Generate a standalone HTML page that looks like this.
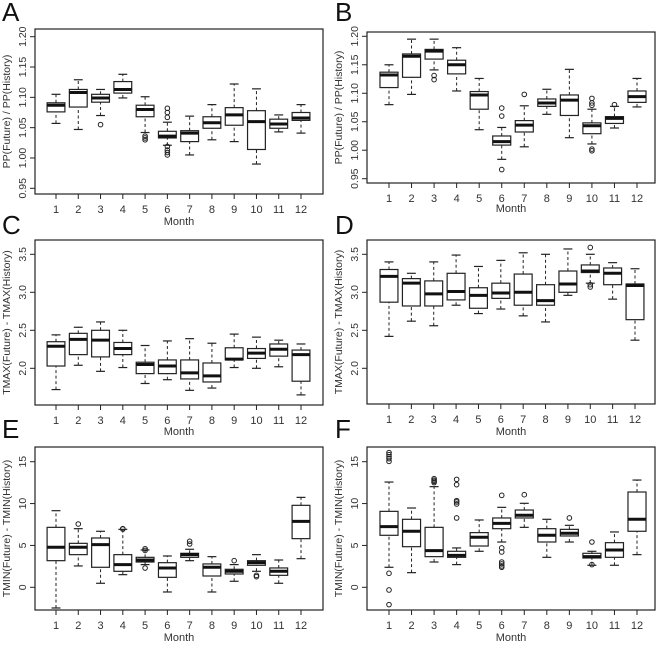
<!DOCTYPE html>
<html><head><meta charset="utf-8"><style>
html,body{margin:0;padding:0;background:#fff;}
svg{display:block;font-family:"Liberation Sans",sans-serif;}
</style></head><body>
<svg id="chart" width="659" height="645" viewBox="0 0 659 645" xmlns="http://www.w3.org/2000/svg"></svg>
<script>
const months = [1,2,3,4,5,6,7,8,9,10,11,12];
// each box: [lowWhisker, q1, median, q3, highWhisker]
const boxesA = [[1.057,1.076,1.087,1.091,1.105],[1.047,1.084,1.108,1.113,1.129],[1.070,1.092,1.099,1.105,1.113],[1.099,1.107,1.113,1.126,1.138],[1.042,1.068,1.080,1.087,1.101],[1.021,1.033,1.036,1.044,1.059],[1.005,1.027,1.041,1.045,1.069],[1.030,1.049,1.058,1.068,1.088],[1.027,1.054,1.071,1.083,1.122],[0.990,1.014,1.060,1.078,1.114],[1.043,1.049,1.056,1.064,1.071],[1.041,1.062,1.066,1.075,1.088]];
const outA = [[],[],[1.055],[],[1.036,1.033,1.030],[1.082,1.075,1.067,1.019,1.013,1.009,1.005],[],[],[],[],[],[]];
const boxesB = [[1.080,1.110,1.132,1.137,1.150],[1.098,1.128,1.165,1.169,1.195],[1.141,1.160,1.174,1.177,1.195],[1.104,1.134,1.150,1.158,1.180],[1.036,1.072,1.097,1.103,1.126],[0.984,1.009,1.015,1.025,1.040],[1.006,1.032,1.044,1.052,1.078],[1.063,1.077,1.083,1.090,1.107],[1.022,1.061,1.088,1.097,1.142],[1.011,1.029,1.043,1.048,1.072],[1.039,1.047,1.056,1.059,1.077],[1.076,1.084,1.094,1.104,1.126]];
const outB = [[],[],[1.131,1.124],[],[],[1.074,1.060,0.966],[1.098],[],[],[1.091,1.083,1.079,1.002,0.999],[1.080],[]];
const boxesC = [[1.72,2.03,2.29,2.35,2.44],[2.04,2.18,2.38,2.46,2.54],[1.96,2.15,2.37,2.50,2.61],[2.01,2.18,2.26,2.34,2.50],[1.80,1.93,2.05,2.08,2.30],[1.85,1.93,2.03,2.11,2.36],[1.71,1.86,1.94,2.11,2.39],[1.74,1.82,1.90,2.07,2.33],[2.01,2.11,2.12,2.27,2.45],[2.00,2.13,2.20,2.26,2.41],[2.02,2.16,2.25,2.32,2.37],[1.65,1.83,2.18,2.24,2.32]];
const outC = [[],[],[],[],[],[],[],[],[],[],[],[]];
const boxesD = [[2.42,2.87,3.21,3.30,3.40],[2.62,2.82,3.12,3.18,3.25],[2.56,2.82,2.98,3.15,3.40],[2.83,2.90,3.01,3.25,3.49],[2.72,2.79,2.96,3.06,3.34],[2.78,2.92,2.99,3.12,3.42],[2.69,2.83,3.00,3.24,3.52],[2.61,2.83,2.89,3.10,3.50],[2.96,3.00,3.11,3.28,3.57],[3.12,3.26,3.28,3.36,3.50],[2.91,3.10,3.25,3.32,3.39],[2.37,2.64,3.09,3.11,3.31]];
const outD = [[],[],[],[],[],[],[],[],[],[3.59,3.10,3.07],[],[]];
const boxesE = [[-2.47,3.18,4.78,7.16,9.15],[2.55,3.90,4.78,5.25,7.0],[0.48,2.39,5.09,5.89,6.69],[1.51,1.91,2.71,3.90,6.92],[2.71,3.02,3.26,3.58,4.46],[-0.56,1.19,2.31,2.94,3.74],[3.18,3.58,3.90,4.06,4.54],[-0.56,1.35,2.39,2.79,3.66],[0.72,1.59,1.91,2.15,2.71],[1.91,2.63,2.94,3.18,3.90],[0.48,1.43,1.91,2.31,3.26],[3.42,5.81,7.88,9.79,10.74]];
const outE = [[],[7.56],[],[7.0,6.95],[4.6,4.4,2.3],[],[5.49,5.17],[],[3.18],[1.43,1.27],[],[]];
const boxesF = [[2.39,6.21,7.24,9.07,12.57],[1.75,4.85,6.69,8.12,9.47],[3.02,3.66,4.38,7.16,12.02],[2.71,3.58,3.82,4.30,4.70],[4.30,4.93,5.97,6.53,8.04],[5.41,7.0,7.64,8.28,9.55],[7.16,8.28,8.6,9.23,10.03],[3.58,5.41,6.21,7.0,8.12],[5.41,6.13,6.45,6.92,7.40],[2.63,3.50,3.66,4.06,4.30],[2.63,3.58,4.46,5.33,6.61],[3.90,6.69,8.12,11.38,12.81]];
const outF = [[16.08,15.84,15.6,15.36,15.04,1.67,-0.32,-2.07],[],[12.97,12.8,12.65,12.5],[12.89,12.26,10.35,10.19,9.95,8.28],[],[10.98,4.7,4.22,3.02,2.79,2.55,2.39],[11.06],[],[8.28],[5.41,2.71],[],[]];
const ticksPP = [0.95,1.00,1.05,1.10,1.15,1.20];
const ticksTMAX = [2.0,2.5,3.0,3.5];
const ticksTMIN = [0,5,10,15];

const NS = "http://www.w3.org/2000/svg";
const svg = document.getElementById('chart');
function mk(tag, attrs, parent, text){
  const e = document.createElementNS(NS, tag);
  for (const k in attrs) e.setAttribute(k, attrs[k]);
  if (text !== undefined) e.textContent = text;
  (parent||svg).appendChild(e);
  return e;
}
const fmtPP = v => v.toFixed(2), fmtT = v => v.toFixed(1), fmtI = v => String(v);

const panels = [
 {id:'a',letter:'A',lx:2,ly:21,L:35,R:323,T:29,B:194,v0:1.20,y0:36.7,v1:0.95,y1:188.3,c1:56,c12:301,ticks:ticksPP,fmt:fmtPP,boxes:boxesA,outs:outA,title:'PP(Future) / PP(History)',tx:10,mly:229},
 {id:'b',letter:'B',lx:335,ly:21,L:367,R:655,T:32,B:183,v0:1.20,y0:36.3,v1:0.95,y1:178.7,c1:389,c12:637,ticks:ticksPP,fmt:fmtPP,boxes:boxesB,outs:outB,title:'PP(Future) / PP(History)',tx:342,mly:216},
 {id:'c',letter:'C',lx:2,ly:234,L:35,R:323,T:240,B:405,v0:3.5,y0:254.3,v1:2.0,y1:368.3,c1:56,c12:301,ticks:ticksTMAX,fmt:fmtT,boxes:boxesC,outs:outC,title:'TMAX(Future) - TMAX(History)',tx:10,mly:439},
 {id:'d',letter:'D',lx:335,ly:234,L:367,R:655,T:240,B:404,v0:3.5,y0:254.3,v1:2.0,y1:368.3,c1:389,c12:635,ticks:ticksTMAX,fmt:fmtT,boxes:boxesD,outs:outD,title:'TMAX(Future) - TMAX(History)',tx:342,mly:439},
 {id:'e',letter:'E',lx:2,ly:438,L:35,R:323,T:447,B:610,v0:15,y0:461.7,v1:0,y1:587.3,c1:56,c12:301,ticks:ticksTMIN,fmt:fmtI,boxes:boxesE,outs:outE,title:'TMIN(Future) - TMIN(History)',tx:10,mly:645},
 {id:'f',letter:'F',lx:335,ly:438,L:367,R:655,T:447,B:610,v0:15,y0:461.7,v1:0,y1:587.3,c1:389,c12:637,ticks:ticksTMIN,fmt:fmtI,boxes:boxesF,outs:outF,title:'TMIN(Future) - TMIN(History)',tx:342,mly:645}
];

panels.forEach(p => {
  const g = mk('g', {});
  
  
  const yS = v => p.y0 + (v - p.v0) / (p.v1 - p.v0) * (p.y1 - p.y0);
  const xS = m => p.c1 + (m - 1) * (p.c12 - p.c1) / 11;
  const bw = (p.c12 - p.c1) / 11 * 0.8;

  const lt = mk('text', {x:p.lx, y:p.ly, 'font-size':26, fill:'#111'}, g, p.letter);
  
  

  const fr = mk('rect', {x:p.L, y:p.T, width:p.R-p.L, height:p.B-p.T, fill:'none', stroke:'#222', 'stroke-width':1.2}, g);
  
  

  p.ticks.forEach(t => {
    const y = yS(t);
    mk('line', {x1:p.L-5, x2:p.L, y1:y, y2:y, stroke:'#222', 'stroke-width':1}, g);
    const tl = mk('text', {x:0, y:0, 'font-size':10.5, fill:'#333', 'text-anchor':'middle', transform:`translate(${p.L-9},${y}) rotate(-90)`}, g, p.fmt(t));
    
    
  });
  mk('line', {x1:p.L, x2:p.L, y1:yS(p.ticks[0]), y2:yS(p.ticks[p.ticks.length-1]), stroke:'#222','stroke-width':1}, g);
  months.forEach(m => {
    const x = xS(m);
    mk('line', {x1:x, x2:x, y1:p.B, y2:p.B+5, stroke:'#222','stroke-width':1}, g);
    const xl = mk('text', {x:x, y:p.B+19, 'font-size':11, fill:'#333','text-anchor':'middle'}, g, String(m));
    
    
  });
  const xt = mk('text', {x:(p.L+p.R)/2, y:p.mly-4, 'font-size':11, fill:'#333','text-anchor':'middle'}, g, 'Month');
  
  
  const yt = mk('text', {x:0, y:0, 'font-size':10.5, fill:'#333','text-anchor':'middle', transform:`translate(${p.tx},${(p.T+p.B)/2}) rotate(-90)`}, g, p.title);
  
  

  p.boxes.forEach((b, i) => {
    const x = xS(months[i]);
    const bg = mk('g', {}, g);
    
    
    mk('line', {x1:x,x2:x,y1:yS(b[0]),y2:yS(b[1]),stroke:'#222','stroke-width':1,'stroke-dasharray':'3,2.5'}, bg);
    mk('line', {x1:x,x2:x,y1:yS(b[3]),y2:yS(b[4]),stroke:'#222','stroke-width':1,'stroke-dasharray':'3,2.5'}, bg);
    mk('line', {x1:x-bw/4,x2:x+bw/4,y1:yS(b[0]),y2:yS(b[0]),stroke:'#222','stroke-width':1.2}, bg);
    mk('line', {x1:x-bw/4,x2:x+bw/4,y1:yS(b[4]),y2:yS(b[4]),stroke:'#222','stroke-width':1.2}, bg);
    mk('rect', {x:x-bw/2,y:yS(b[3]),width:bw,height:Math.max(0.5,yS(b[1])-yS(b[3])),fill:'#fff',stroke:'#222','stroke-width':1.2}, bg);
    mk('line', {x1:x-bw/2,x2:x+bw/2,y1:yS(b[2]),y2:yS(b[2]),stroke:'#111','stroke-width':3}, bg);
    p.outs[i].forEach(o => {
      const c = mk('circle', {cx:x, cy:yS(o), r:2.3, fill:'none', stroke:'#222','stroke-width':1}, bg);
      
      
    });
  });
});
</script>
</body></html>
